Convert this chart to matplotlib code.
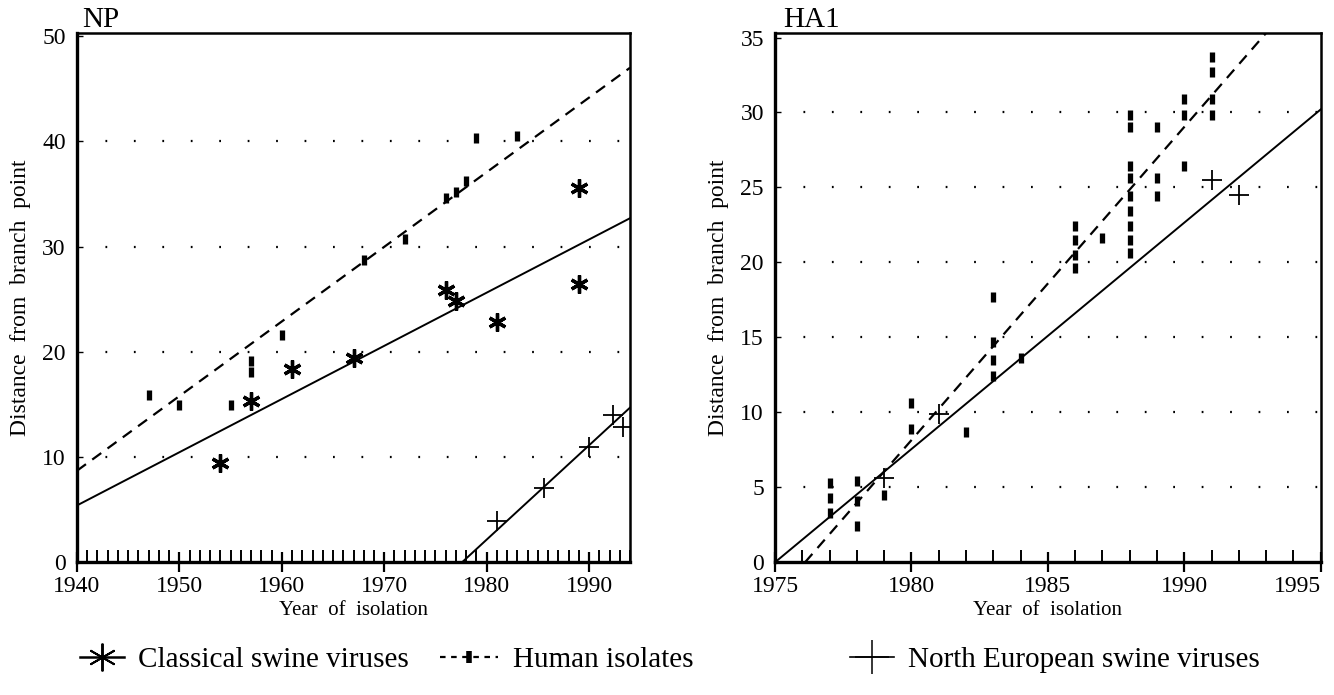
import matplotlib.pyplot as plt
from matplotlib.lines import Line2D
from matplotlib.ticker import MultipleLocator

# NP panel
np_human_year = [1947, 1950, 1955, 1957, 1957, 1960, 1968, 1972, 1976, 1977, 1978, 1979, 1983]
np_human_dist = [15.9, 14.9, 14.9, 19.1, 18.1, 21.6, 28.7, 30.7, 34.6, 35.2, 36.2, 40.3, 40.5]
np_class_year = [1954, 1957, 1961, 1967, 1976, 1977, 1981, 1989, 1989]
np_class_dist = [9.4, 15.3, 18.4, 19.4, 25.9, 24.8, 22.8, 35.6, 26.4]
np_ne_year = [1981, 1985.6, 1990, 1992.3, 1993.3]
np_ne_dist = [3.9, 7.1, 11.0, 14.0, 12.9]
# fitted lines (end points)
np_human_fit = ([1940, 1994], [8.7, 47.0])
np_class_fit = ([1940, 1994], [5.4, 32.7])
np_ne_fit = ([1977.6, 1994], [0.0, 14.7])

# HA1 panel
ha_human_year = [1977, 1977, 1977, 1978, 1978, 1978, 1979, 1980, 1980, 1982,
                 1983, 1983, 1983, 1983, 1984,
                 1986, 1986, 1986, 1986, 1987,
                 1988, 1988, 1988, 1988, 1988, 1988, 1988, 1988, 1988,
                 1989, 1989, 1989, 1990, 1990, 1990,
                 1991, 1991, 1991, 1991]
ha_human_dist = [5.3, 4.3, 3.3, 5.4, 4.1, 2.4, 4.5, 10.6, 8.9, 8.7,
                 17.7, 14.7, 13.5, 12.4, 13.6,
                 22.4, 21.5, 20.5, 19.6, 21.6,
                 29.8, 29.0, 26.4, 25.6, 24.4, 23.4, 22.4, 21.5, 20.6,
                 29.0, 25.6, 24.4, 30.9, 29.8, 26.4,
                 33.7, 32.7, 30.9, 29.8]
ha_ne_year = [1979, 1981, 1991, 1992]
ha_ne_dist = [5.6, 9.9, 25.5, 24.5]
ha_human_fit = ([1976.1, 1993.0], [0.0, 35.3])
ha_ne_fit = ([1975, 1995], [0.0, 30.2])

legend_labels = ["Classical swine viruses", "Human isolates", "North European swine viruses"]

plt.rcParams['font.family'] = ['Liberation Serif', 'DejaVu Serif']

fig = plt.figure(figsize=(13.34, 6.95), dpi=100)
ax1 = fig.add_axes([0.0577, 0.191, 0.4146, 0.7615])
ax2 = fig.add_axes([0.581, 0.191, 0.409, 0.7615])

human_kw = dict(linestyle="none", marker="|", markersize=7, markeredgewidth=3.8, color="black")
class_kw = dict(linestyle="none", marker=(6, 2, 0), markersize=13, markeredgewidth=2.4, color="black")
ne_kw = dict(linestyle="none", marker="+", markersize=15, markeredgewidth=1.3, color="black")


def style_axis(ax, xlim, ylim, xticks, yticks, ygrid):
    ax.set_xlim(*xlim)
    ax.set_ylim(*ylim)
    ax.set_xticks(xticks)
    ax.set_yticks(yticks)
    for s in ax.spines.values():
        s.set_linewidth(1.8)
    ax.spines["bottom"].set_linewidth(2.4)
    ax.spines["left"].set_linewidth(2.4)
    ax.xaxis.set_minor_locator(MultipleLocator(1))
    ax.tick_params(axis="x", which="major", direction="inout", length=14, width=1.6,
                   labelsize=17, pad=3)
    ax.tick_params(axis="x", which="minor", direction="in", length=9, width=1.4)
    ax.tick_params(axis="y", which="major", direction="in", length=4, width=1,
                   labelsize=17, pad=8)
    for g in ygrid:
        ax.axhline(g, color="black", linewidth=1.6, linestyle=(0, (0.8, 12)), zorder=0)
    ax.set_xlabel("Year  of  isolation", fontsize=15, labelpad=3)
    ax.set_ylabel("Distance  from  branch  point", fontsize=17, labelpad=8)


# NP
ax1.plot(*np_human_fit, color="black", linewidth=1.6, linestyle=(0, (5, 3.5)))
ax1.plot(*np_class_fit, color="black", linewidth=1.4)
ax1.plot(*np_ne_fit, color="black", linewidth=1.4)
ax1.plot(np_human_year, np_human_dist, **human_kw)
ax1.plot(np_class_year, np_class_dist, **class_kw)
ax1.plot(np_ne_year, np_ne_dist, **ne_kw)
style_axis(ax1, (1940, 1994), (0, 50.3), [1940, 1950, 1960, 1970, 1980, 1990],
           [0, 10, 20, 30, 40, 50], [10, 20, 30, 40])
ax1.text(0.01, 1.0, "NP", transform=ax1.transAxes, fontsize=21, ha="left", va="bottom")

# HA1
ax2.plot(*ha_human_fit, color="black", linewidth=1.6, linestyle=(0, (5, 3.5)))
ax2.plot(*ha_ne_fit, color="black", linewidth=1.4)
ax2.plot(ha_human_year, ha_human_dist, **human_kw)
ax2.plot(ha_ne_year, ha_ne_dist, **ne_kw)
style_axis(ax2, (1975, 1995), (0, 35.3), [1975, 1980, 1985, 1990, 1995],
           [0, 5, 10, 15, 20, 25, 30, 35], [5, 10, 15, 20, 25, 30])
ax2.get_xticklabels()[-1].set_horizontalalignment("right")
ax2.text(0.015, 1.0, "HA1", transform=ax2.transAxes, fontsize=21, ha="left", va="bottom")

# legend: three entries placed along the bottom
handles = [
    Line2D([], [], color="black", linewidth=1.8, marker=(6, 2, 0), markersize=20, markeredgewidth=1.4),
    Line2D([], [], color="black", linewidth=1.6, linestyle=(0, (2.5, 2.5)), marker="|",
           markersize=8, markeredgewidth=4),
    Line2D([], [], color="black", linewidth=1.2, marker="+", markersize=24, markeredgewidth=1.1),
]
entry_x = [80 / 1334, 440 / 1334, 850 / 1334]
entry_len = [1.5, 2.0, 1.5]
for h, lab, x0, hl in zip(handles, legend_labels, entry_x, entry_len):
    fig.legend([h], [lab], loc="center left", bbox_to_anchor=(x0, 0.05), frameon=False,
               borderpad=0, borderaxespad=0, fontsize=21, handlelength=hl, handletextpad=0.5)

plt.savefig("out.png", dpi=100)
